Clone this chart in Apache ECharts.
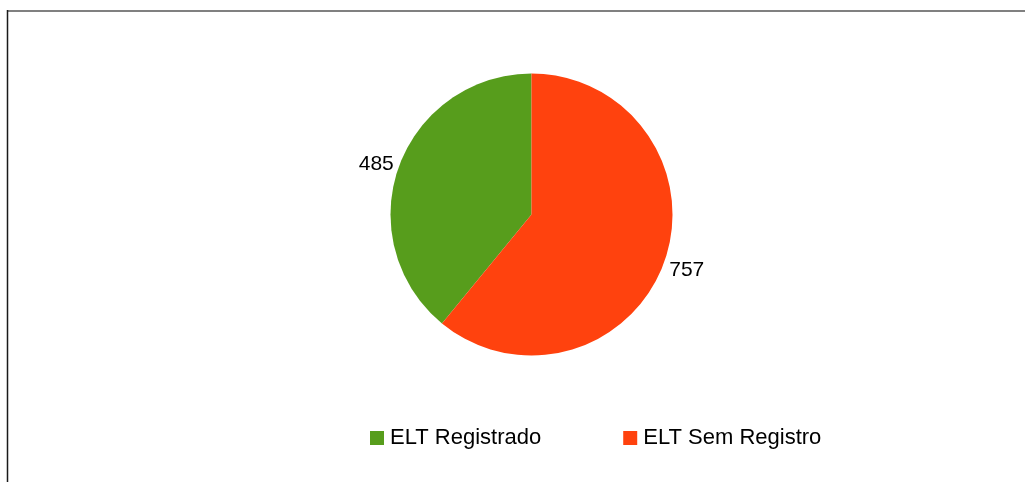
<!DOCTYPE html>
<html>
<head>
<meta charset="utf-8">
<script src="https://cdn.jsdelivr.net/npm/echarts@6/dist/echarts.min.js"></script>
<style>
  html, body { margin: 0; padding: 0; background: #fff; }
  #chart { width: 1025px; height: 482px; }
</style>
</head>
<body>
<div id="chart"></div>
<script>
// categorias e valores
const categories = ['ELT Registrado', 'ELT Sem Registro']
const values = [485, 757]
const colors = ['#579d1c', '#ff420e']
// ajuste vertical dos rótulos (o original é levemente oval)
const labelShift = [-3, 8]

const chart = echarts.init(document.getElementById('chart'))

const pieData = categories.map((name, i) => ({
  name: name,
  value: values[i],
  itemStyle: { color: colors[i] }
}))

const option = {
  animation: false,
  textStyle: { fontFamily: 'Liberation Sans, Arial, sans-serif' },
  // moldura: linha cinza no topo, preta à esquerda
  graphic: [
    { type: 'line', shape: { x1: 7, y1: 11, x2: 1025, y2: 11 }, style: { stroke: '#808080', lineWidth: 2 } },
    { type: 'line', shape: { x1: 7.5, y1: 10, x2: 7.5, y2: 482 }, style: { stroke: '#1a1a1a', lineWidth: 1.5 } }
  ],
  legend: {
    data: categories,
    left: 370,
    top: 427,
    padding: 0,
    icon: 'rect',
    itemWidth: 14,
    itemHeight: 14,
    itemGap: 82,
    textStyle: { fontSize: 22, color: '#000', padding: [0, 0, 0, 1] }
  },
  series: [
    {
      type: 'pie',
      center: [531.5, 214.5],
      radius: 141,
      startAngle: 90,
      clockwise: false,
      data: pieData,
      label: {
        show: true,
        position: 'outside',
        formatter: '{c}',
        fontSize: 21,
        color: '#000'
      },
      labelLine: { show: false, length: 0, length2: 0 },
      labelLayout: function (params) {
        return { dy: labelShift[params.dataIndex] }
      },
      emphasis: { disabled: true }
    }
  ]
}

chart.setOption(option)
</script>
</body>
</html>
